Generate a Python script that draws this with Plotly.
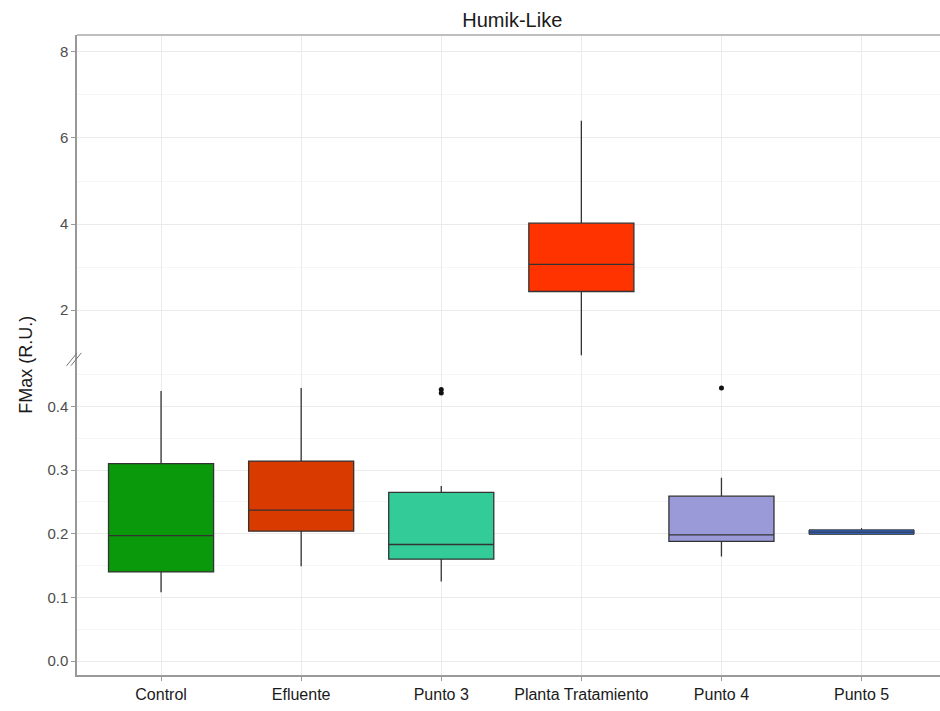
import plotly.graph_objects as go

# Category labels and colours
categories = ["Control", "Efluente", "Punto 3", "Planta Tratamiento", "Punto 4", "Punto 5"]
colors = ["#0a990a", "#d93a00", "#33cc99", "#ff3300", "#9a9ad9", "#3366cc"]

# Box statistics (FMax, R.U.)
lower_fence = [0.108, 0.149, 0.125, 0.95, 0.164, 0.199]
q1 = [0.140, 0.204, 0.160, 2.43, 0.188, 0.199]
median = [0.197, 0.237, 0.183, 3.06, 0.198, 0.2025]
q3 = [0.310, 0.314, 0.265, 4.02, 0.259, 0.206]
upper_fence = [0.424, 0.429, 0.275, 6.40, 0.288, 0.209]

# Outlying observations
outlier_cat = ["Punto 3", "Punto 3", "Punto 4"]
outlier_val = [0.4265, 0.421, 0.429]

# Groups drawn on the upper (broken) segment of the axis
upper_groups = ["Planta Tratamiento"]

fig = go.Figure()
for i, cat in enumerate(categories):
    on_upper = cat in upper_groups
    thin = (q3[i] - q1[i]) < 0.02
    fig.add_trace(go.Box(
        x=[cat],
        q1=[q1[i]], median=[median[i]], q3=[q3[i]],
        lowerfence=[lower_fence[i]], upperfence=[upper_fence[i]],
        fillcolor=colors[i],
        line=dict(color="#333333", width=1.0 if thin else 1.3),
        width=0.75,
        whiskerwidth=0,
        boxpoints=False,
        yaxis="y2" if on_upper else "y",
        showlegend=False,
        hoverinfo="y",
    ))

fig.add_trace(go.Scatter(
    x=outlier_cat, y=outlier_val, mode="markers",
    marker=dict(color="#111111", size=5),
    showlegend=False, yaxis="y",
))

split = (675 - 358) / 640.0
grid = "#ebebeb"
font_family = "Liberation Sans, Arial, sans-serif"
tickfont = dict(family=font_family, size=15, color="#4d4d4d")
axis_line = "#999999"

fig.update_layout(
    width=940, height=711,
    margin=dict(l=77, r=0, t=35, b=36),
    paper_bgcolor="white", plot_bgcolor="white",
    title=dict(text="Humik-Like", x=0.545, xanchor="center", y=0.972, yanchor="middle",
               font=dict(family=font_family, size=20, color="#1a1a1a")),
    xaxis=dict(
        type="category", categoryorder="array", categoryarray=categories,
        range=[-0.6, 5.56], anchor="y",
        showgrid=True, gridcolor=grid, gridwidth=1,
        showline=True, linecolor=axis_line, linewidth=1.5,
        ticks="outside", ticklen=4, tickcolor=axis_line,
        tickfont=dict(family=font_family, size=16, color="#1a1a1a"),
        zeroline=False,
    ),
    yaxis=dict(
        domain=[0, split], range=[-0.022, 0.476],
        tickvals=[0.0, 0.1, 0.2, 0.3, 0.4], tickformat=".1f",
        showgrid=True, gridcolor=grid, gridwidth=1,
        minor=dict(tickvals=[0.05, 0.15, 0.25, 0.35, 0.45], showgrid=True, gridcolor="#f5f5f5"),
        showline=True, linecolor=axis_line, linewidth=1.5,
        ticks="outside", ticklen=4, tickcolor=axis_line,
        tickfont=tickfont, zeroline=False,
    ),
    yaxis2=dict(
        domain=[split, 1], range=[0.884, 8.395], anchor="x",
        tickvals=[2, 4, 6, 8],
        showgrid=True, gridcolor=grid, gridwidth=1,
        minor=dict(tickvals=[3, 5, 7], showgrid=True, gridcolor="#f5f5f5"),
        showline=True, linecolor=axis_line, linewidth=1.5,
        ticks="outside", ticklen=4, tickcolor=axis_line,
        tickfont=tickfont, zeroline=False,
    ),
    annotations=[dict(
        text="FMax (R.U.)", textangle=-90, xref="paper", yref="paper",
        x=-0.06, y=0.485, xanchor="center", yanchor="middle", showarrow=False,
        font=dict(family=font_family, size=18, color="#1a1a1a"),
    )],
    shapes=[
        # top border of the panel
        dict(type="line", xref="paper", yref="paper", x0=0, x1=1, y0=1, y1=1,
             line=dict(color="#aaaaaa", width=1.5)),
        # axis break marks
        dict(type="line", xref="paper", yref="paper", x0=-0.012, x1=0.0, y0=split - 0.012, y1=split + 0.008,
             line=dict(color="#777777", width=1)),
        dict(type="line", xref="paper", yref="paper", x0=-0.007, x1=0.005, y0=split - 0.012, y1=split + 0.008,
             line=dict(color="#777777", width=1)),
    ],
)

fig.write_html("out.html")
